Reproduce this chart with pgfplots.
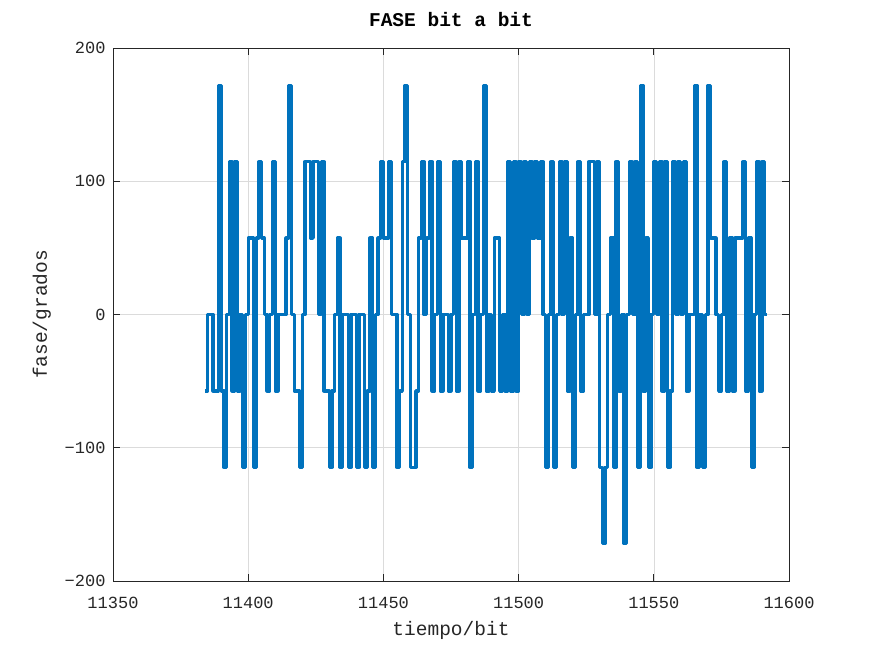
\documentclass[border=0pt]{standalone}
\usepackage{fontspec}
\setmainfont{Liberation Mono}
\usepackage{pgfplots}
\pgfplotsset{compat=1.18}
\definecolor{mblue}{RGB}{0,114,189}
\definecolor{axgray}{RGB}{38,38,38}
\begin{document}
\begin{tikzpicture}
\path[use as bounding box] (0,0) rectangle (872pt,654pt);
\begin{axis}[
  at={(113pt,73pt)}, anchor=south west,
  width=676pt, height=533pt, scale only axis,
  xmin=11350, xmax=11600, ymin=-200, ymax=200,
  xtick={11350,11400,11450,11500,11550,11600},
  xticklabels={11350,11400,11450,11500,11550,11600},
  scaled x ticks=false,
  ytick={-200,-100,0,100,200},
  yticklabels={−200,−100,0,100,200},
  /pgf/number format/assume math mode=true,
  /pgf/number format/set thousands separator={},
  tick label style={font=\fontsize{17}{20}\selectfont, text=axgray},
  xticklabel style={yshift=-13pt},
  yticklabel style={xshift=-4pt},
  tick align=inside, major tick length=7pt,
  tick style={axgray, line width=0.7pt},
  axis line style={axgray, line width=0.8pt},
  grid=major, major grid style={black!14, line width=0.6pt},
  xlabel={tiempo/bit}, ylabel={fase/grados},
  label style={font=\fontsize{19.5}{22}\selectfont, text=axgray},
  xlabel style={yshift=-5pt},
  ylabel style={yshift=7pt},
  title={\textbf{FASE bit a bit}},
  title style={font=\fontsize{19.5}{22}\selectfont, at={(axis description cs:0.5,1)}, anchor=base, yshift=15pt},
  clip=true,
]
\addplot[const plot, color=mblue, line width=3.3pt, line join=round] table[x=x, y=y] {
x y
11384 -57.3
11385 0
11386 0
11387 -57.3
11388 -57.3
11389 171.9
11390 -57.3
11391 -114.6
11392 0
11393 114.6
11394 -57.3
11395 114.6
11396 -57.3
11397 0
11398 -114.6
11399 0
11400 57.3
11401 57.3
11402 -114.6
11403 57.3
11404 114.6
11405 57.3
11406 0
11407 -57.3
11408 0
11409 114.6
11410 -57.3
11411 0
11412 0
11413 0
11414 57.3
11415 171.9
11416 0
11417 -57.3
11418 -57.3
11419 -114.6
11420 0
11421 114.6
11422 114.6
11423 57.3
11424 114.6
11425 114.6
11426 0
11427 114.6
11428 -57.3
11429 -57.3
11430 -114.6
11431 -57.3
11432 0
11433 57.3
11434 -114.6
11435 0
11436 0
11437 -114.6
11438 0
11439 0
11440 -114.6
11441 0
11442 0
11443 -114.6
11444 -57.3
11445 57.3
11446 -114.6
11447 0
11448 57.3
11449 114.6
11450 57.3
11451 57.3
11452 114.6
11453 0
11454 0
11455 -114.6
11456 -57.3
11457 114.6
11458 171.9
11459 0
11460 -114.6
11461 -114.6
11462 -57.3
11463 57.3
11464 114.6
11465 0
11466 57.3
11467 114.6
11468 -57.3
11469 0
11470 114.6
11471 -57.3
11472 0
11473 0
11474 -57.3
11475 0
11476 114.6
11477 -57.3
11478 114.6
11479 57.3
11480 57.3
11481 114.6
11482 -114.6
11483 0
11484 114.6
11485 -57.3
11486 0
11487 171.9
11488 -57.3
11489 0
11490 -57.3
11491 57.3
11492 57.3
11493 -57.3
11494 0
11495 -57.3
11496 114.6
11497 -57.3
11498 114.6
11499 -57.3
11500 114.6
11501 0
11502 114.6
11503 0
11504 114.6
11505 57.3
11506 114.6
11507 57.3
11508 114.6
11509 0
11510 -114.6
11511 0
11512 114.6
11513 -114.6
11514 0
11515 114.6
11516 0
11517 114.6
11518 -57.3
11519 57.3
11520 -114.6
11521 0
11522 114.6
11523 -57.3
11524 0
11525 0
11526 114.6
11527 114.6
11528 0
11529 114.6
11530 -114.6
11531 -171.9
11532 -114.6
11533 0
11534 57.3
11535 -114.6
11536 114.6
11537 -57.3
11538 0
11539 -171.9
11540 0
11541 114.6
11542 0
11543 114.6
11544 -114.6
11545 171.9
11546 -57.3
11547 57.3
11548 -114.6
11549 0
11550 114.6
11551 0
11552 114.6
11553 -57.3
11554 114.6
11555 -114.6
11556 -57.3
11557 114.6
11558 0
11559 114.6
11560 0
11561 114.6
11562 -57.3
11563 0
11564 0
11565 171.9
11566 -114.6
11567 0
11568 -114.6
11569 0
11570 171.9
11571 57.3
11572 57.3
11573 0
11574 -57.3
11575 0
11576 114.6
11577 -57.3
11578 57.3
11579 -57.3
11580 57.3
11581 57.3
11582 57.3
11583 114.6
11584 -57.3
11585 57.3
11586 -114.6
11587 0
11588 114.6
11589 -57.3
11590 114.6
11591 0
11592 0
};
\end{axis}
\end{tikzpicture}
\end{document}
